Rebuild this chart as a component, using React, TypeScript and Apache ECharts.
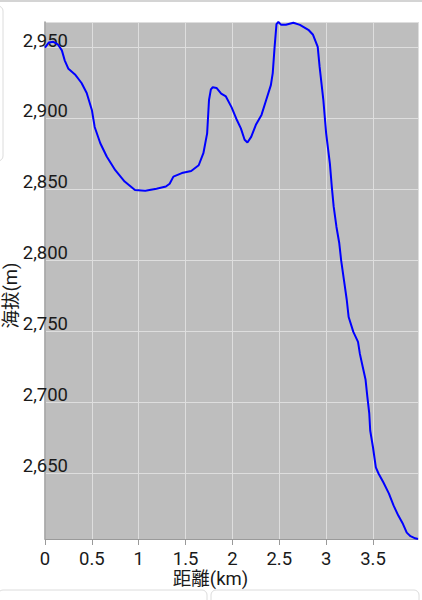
import * as echarts from 'echarts';
import { useEffect, useRef } from 'react';

// 距離 (km) と 海拔 (m) の断面データ
const distKm = [
  0, 0.04, 0.09, 0.14, 0.18, 0.21, 0.25, 0.32, 0.39, 0.445,
  0.5, 0.53, 0.59, 0.66, 0.75, 0.85, 0.96, 1.07, 1.19, 1.29,
  1.33, 1.37, 1.46, 1.56, 1.64, 1.69, 1.73, 1.75, 1.77, 1.79,
  1.83, 1.88, 1.93, 1.99, 2.04, 2.09, 2.13, 2.16, 2.2, 2.25,
  2.31, 2.36, 2.41, 2.43, 2.45, 2.47, 2.49, 2.52, 2.57, 2.65,
  2.72, 2.81, 2.86, 2.91, 2.93, 2.97, 3.0, 3.04, 3.06, 3.08,
  3.11, 3.14, 3.16, 3.19, 3.22, 3.24, 3.29, 3.34, 3.36, 3.39,
  3.42, 3.44, 3.46, 3.47, 3.5, 3.53, 3.56, 3.61, 3.67, 3.72,
  3.77, 3.82, 3.86, 3.9, 3.95, 3.98,
];
const elevM = [
  2950, 2953.5, 2954, 2952, 2948, 2941, 2935, 2931, 2925, 2918,
  2906, 2894, 2882.5, 2873, 2863.5, 2855.5, 2849.5, 2849, 2850.5, 2852,
  2854, 2859, 2861.5, 2863, 2867, 2875.5, 2889.5, 2913, 2920.5, 2922,
  2921.5, 2917.5, 2915.5, 2908, 2900, 2893, 2885, 2883, 2887, 2895.5,
  2902.5, 2913, 2923.5, 2932, 2950.5, 2966.5, 2968, 2966, 2966, 2967.5,
  2966, 2962.5, 2959, 2950.5, 2936.5, 2913, 2889.5, 2868, 2852, 2838,
  2823.5, 2812, 2800, 2786, 2772, 2760, 2749.5, 2742.5, 2734, 2725,
  2716, 2703.5, 2692, 2680, 2668, 2654, 2649.5, 2643.5, 2635.5, 2627,
  2620, 2614, 2608, 2605.5, 2604, 2603.5,
];

const xName = '距離(km)';
const yName = '海拔(m)';

const FONT = "Roboto, 'Noto Sans CJK JP', sans-serif";
const TEXT = '#1a1a1a';

export default function App() {
  const chartRef = useRef<HTMLDivElement>(null);

  useEffect(() => {
    if (!chartRef.current) return;
    const chart = echarts.init(chartRef.current, undefined, { renderer: 'svg' });

    chart.setOption({
      animation: false,
      backgroundColor: '#ffffff',
      textStyle: { fontFamily: FONT },
      grid: {
        left: 45,
        right: 4,
        top: 22,
        bottom: 61,
        containLabel: false,
        outerBoundsMode: 'none',
        show: true,
        backgroundColor: '#bebebe',
        borderWidth: 0,
      },
      // 画面の枠（カードの縁）
      graphic: [
        { type: 'rect', shape: { x: 0, y: 0, width: 422, height: 2 }, style: { fill: '#d4d4d4' }, silent: true },
        { type: 'rect', shape: { x: -20, y: 6, width: 23, height: 155, r: 5 }, style: { fill: 'none', stroke: '#dcdcdc', lineWidth: 1 }, silent: true },
        { type: 'rect', shape: { x: -2, y: 590, width: 209, height: 30, r: 5 }, style: { fill: 'none', stroke: '#dcdcdc', lineWidth: 1 }, silent: true },
        { type: 'rect', shape: { x: 211, y: 590, width: 208, height: 30, r: 5 }, style: { fill: 'none', stroke: '#dcdcdc', lineWidth: 1 }, silent: true },
      ],
      xAxis: {
        type: 'value',
        min: 0,
        max: 'dataMax',
        interval: 0.5,
        name: xName,
        nameLocation: 'middle',
        nameGap: 31,
        nameMoveOverlap: false,
        nameTextStyle: { fontSize: 18.5, color: TEXT, fontFamily: FONT, padding: [0, 42, 0, 0] },
        axisLine: { show: true, lineStyle: { color: '#9a9a9a', width: 1 } },
        axisTick: { show: true, length: 6, lineStyle: { color: '#9a9a9a' } },
        axisLabel: { fontSize: 18.5, color: TEXT, margin: 12, lineHeight: 16, showMaxLabel: false },
        splitLine: { show: true, lineStyle: { color: '#dedede', width: 1 } },
      },
      yAxis: {
        type: 'value',
        min: 'dataMin',
        max: 'dataMax',
        splitNumber: 7,
        name: yName,
        nameLocation: 'middle',
        nameGap: 25,
        nameMoveOverlap: false,
        nameTextStyle: { fontSize: 18.5, color: TEXT, fontFamily: FONT, padding: [0, 30, 0, 0] },
        axisLine: { show: true, lineStyle: { color: '#9a9a9a', width: 1.5 } },
        axisTick: { show: false },
        axisLabel: {
          fontSize: 18.5,
          color: TEXT,
          margin: -23,
          showMinLabel: false,
          showMaxLabel: false,
          verticalAlign: 'bottom',
          lineHeight: 14,
        },
        splitLine: { show: true, lineStyle: { color: '#dedede', width: 1 } },
      },
      series: [
        {
          type: 'line',
          data: distKm.map((d, i) => [d, elevM[i]]),
          showSymbol: false,
          lineStyle: { color: '#0000ff', width: 2 },
          clip: true,
        },
      ],
    });

    return () => chart.dispose();
  }, []);

  return (
    <div
      ref={chartRef}
      style={{ position: 'absolute', left: 0, top: 0, width: 422, height: 600 }}
    />
  );
}
